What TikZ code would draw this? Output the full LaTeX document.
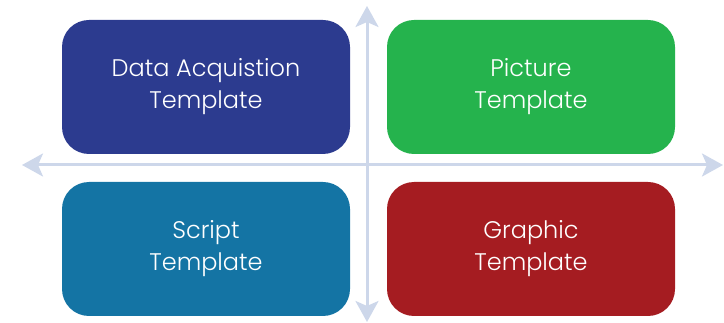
\documentclass[tikz,border=0pt]{standalone}
\usepackage{fontspec}
\IfFontExistsTF{Poppins Light}{\setmainfont{Poppins Light}}{\setmainfont{Poppins}}
\usetikzlibrary{arrows.meta}

\definecolor{acqblue}{HTML}{2C3B8F}
\definecolor{picgreen}{HTML}{25B34D}
\definecolor{scrblue}{HTML}{1474A4}
\definecolor{grared}{HTML}{A51C21}
\definecolor{axisgrey}{HTML}{CDD7EA}

\begin{document}
\begin{tikzpicture}[x=1pt,y=-1pt,>/.tip={Stealth[length=21pt,width=23pt,inset=5pt]},
	box/.style={rounded corners=27pt,minimum width=288pt,minimum height=134pt,text=white,align=center,font=\fontsize{24}{32}\selectfont}]
	\useasboundingbox (0,0) rectangle (724,323);
	% axes
	\coordinate (left) at (22,165);
	\coordinate (right) at (723,165);
	\coordinate (top) at (367,6);
	\coordinate (bottom) at (367,322);
	\draw[axisgrey,line width=3pt,<->] (left) -- (right);
	\draw[axisgrey,line width=3pt,<->] (top) -- (bottom);
	% templates
	\node (acq) [box,fill=acqblue] at (206,87) {Data Acquistion\\Template};
	\node (pic) [box,fill=picgreen] at (531,87) {Picture\\Template};
	\node (scr) [box,fill=scrblue] at (206,249) {Script\\Template};
	\node (gra) [box,fill=grared] at (531,249) {Graphic\\Template};
\end{tikzpicture}
\end{document}
